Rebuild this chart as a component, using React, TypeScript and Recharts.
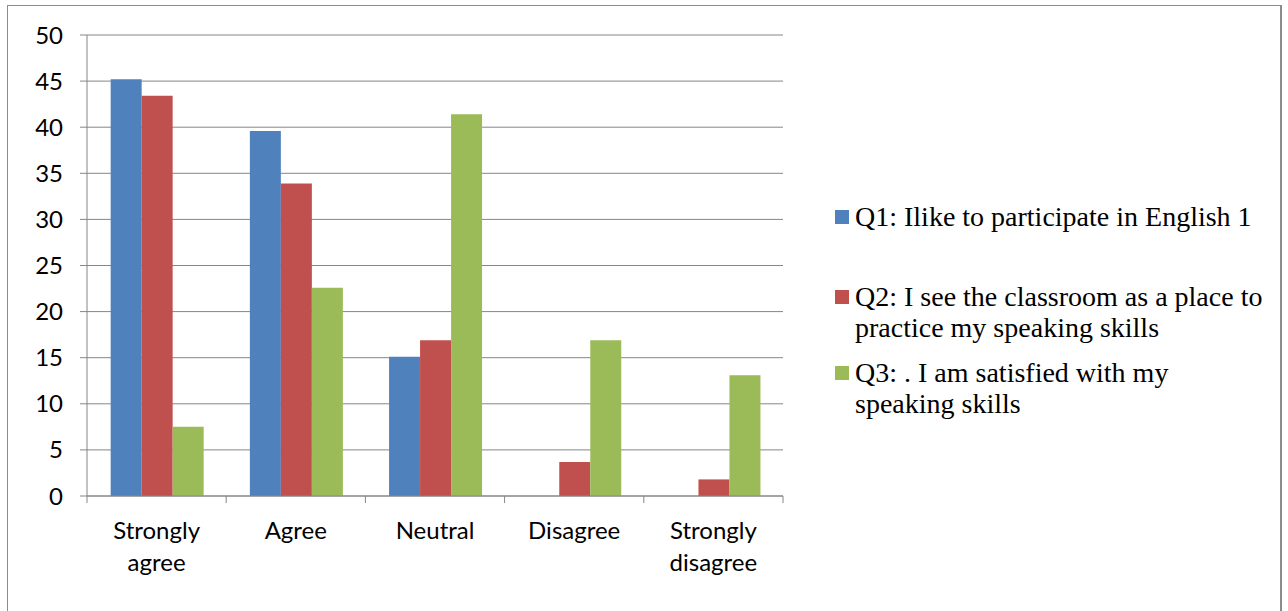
import { BarChart, Bar, XAxis, YAxis, CartesianGrid } from "recharts";

const categories = ["Strongly agree", "Agree", "Neutral", "Disagree", "Strongly disagree"];
const q1Values = [45.2, 39.6, 15.1, 0, 0];
const q2Values = [43.4, 33.9, 16.9, 3.7, 1.8];
const q3Values = [7.5, 22.6, 41.4, 16.9, 13.1];
const yTicks = [0, 5, 10, 15, 20, 25, 30, 35, 40, 45, 50];

const series = [
  { key: "q1", name: "Q1: Ilike to participate in English 1", color: "#4F81BD" },
  { key: "q2", name: "Q2: I see the classroom as a place to practice my speaking skills", color: "#C0504D" },
  { key: "q3", name: "Q3: . I am satisfied with my speaking skills", color: "#9BBB59" },
];

const data = categories.map((category, i) => ({
  category,
  q1: q1Values[i],
  q2: q2Values[i],
  q3: q3Values[i],
}));

const AXIS_GRAY = "#868686";
const AXIS_FONT = "Lato, 'Open Sans', sans-serif";

// category label under each group, plus Excel-style tick marks on the band edges
function CategoryTick(props: any) {
  const { x, y, payload, index, visibleTicksCount } = props;
  const half = payload.offset ?? 0;
  const lines = String(payload.value).split(" ");
  const isLast = index === visibleTicksCount - 1;
  return (
    <g>
      <line x1={x - half} x2={x - half} y1={y - 7} y2={y} stroke={AXIS_GRAY} />
      {isLast && <line x1={x + half} x2={x + half} y1={y - 7} y2={y} stroke={AXIS_GRAY} />}
      <text x={x} y={y} textAnchor="middle" fontSize={24} fontFamily={AXIS_FONT} fill="#000">
        {lines.map((line, i) => (
          <tspan key={i} x={x} dy={i === 0 ? 36 : 32}>
            {line}
          </tspan>
        ))}
      </text>
    </g>
  );
}

function SeriesLegend() {
  const gaps = [49, 14, 0];
  return (
    <div
      style={{
        position: "absolute",
        left: 835,
        top: 201,
        width: 440,
        fontFamily: "'Liberation Serif', 'Times New Roman', serif",
        fontSize: 28,
        lineHeight: "31px",
        color: "#000",
      }}
    >
      {series.map((s, i) => (
        <div key={s.key} style={{ display: "flex", alignItems: "flex-start", marginBottom: gaps[i] }}>
          <span
            style={{
              width: 14,
              height: 14,
              background: s.color,
              marginTop: 9,
              marginRight: 6,
              flexShrink: 0,
            }}
          />
          <span style={{ width: 412 }}>{s.name}</span>
        </div>
      ))}
    </div>
  );
}

export default function App() {
  return (
    <div
      style={{
        position: "fixed",
        left: 0,
        top: 0,
        width: 1288,
        height: 611,
        background: "#fff",
        overflow: "hidden",
      }}
    >
      <div
        style={{
          position: "absolute",
          left: 7,
          top: 5,
          width: 1272,
          height: 640,
          borderTop: "1px solid #8c8c8c",
          borderLeft: "1px solid #8c8c8c",
          borderRight: "2px solid #8c8c8c",
        }}
      />
      <BarChart
        width={1288}
        height={611}
        data={data}
        margin={{ top: 35, right: 505, bottom: 0, left: 7 }}
        barCategoryGap="17%"
        barGap={0}
      >
        <CartesianGrid vertical={false} stroke={AXIS_GRAY} strokeDasharray="" />
        <XAxis
          dataKey="category"
          height={115}
          tickSize={7}
          tickMargin={0}
          tickLine={false}
          axisLine={{ stroke: AXIS_GRAY }}
          tick={<CategoryTick />}
          interval={0}
        />
        <YAxis
          width={80}
          domain={[0, 50]}
          ticks={yTicks}
          tickSize={7}
          tickMargin={17}
          axisLine={{ stroke: AXIS_GRAY }}
          tickLine={{ stroke: AXIS_GRAY }}
          tick={{ fontSize: 24, fontFamily: AXIS_FONT, fill: "#000" }}
          interval={0}
        />
        {series.map((s) => (
          <Bar key={s.key} dataKey={s.key} name={s.name} fill={s.color} isAnimationActive={false} />
        ))}
      </BarChart>
      <SeriesLegend />
    </div>
  );
}
